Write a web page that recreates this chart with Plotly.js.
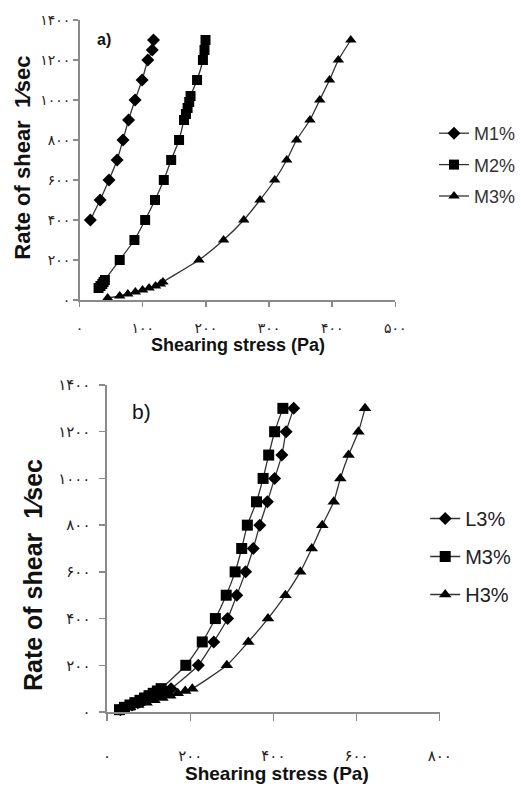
<!DOCTYPE html>
<html>
<head>
<meta charset="utf-8">
<script src="https://cdn.plot.ly/plotly-3.0.1.min.js"></script>
<style>html,body{margin:0;padding:0;background:#fff;}#chart{width:521px;height:791px;}</style>
</head>
<body>
<div id="chart"></div>
<script>
// ---- Panel a) ----
const aM1x = [17, 32.5, 46.5, 59.4, 68.7, 77.5, 87.8, 99, 108, 115, 117];
const aM1y = [400, 500, 600, 700, 800, 900, 1000, 1100, 1200, 1250, 1300];
const aM2x = [30, 33, 36, 38, 40, 63.5, 86.8, 103.8, 119.4, 133.3, 145, 157.5, 165.3, 168.4, 171, 173.6, 175.7, 186, 195.3, 197.8, 199.4];
const aM2y = [60, 70, 80, 90, 100, 200, 300, 400, 500, 600, 700, 800, 900, 930, 960, 990, 1020, 1100, 1200, 1250, 1300];
const aM3x = [44.4, 63.5, 76.4, 88.3, 99.7, 110, 120.3, 128, 132, 189, 228, 260, 285.7, 309, 328, 343.6, 364.8, 380.3, 395.8, 409.8, 429.5];
const aM3y = [10, 20, 30, 40, 50, 60, 70, 80, 90, 200, 300, 400, 500, 600, 700, 800, 900, 1000, 1100, 1200, 1300];
// ---- Panel b) ----
const bL3x = [32, 46, 60, 74, 87, 100, 113, 126, 140, 154, 219.5, 256.6, 290, 312, 333.3, 351.6, 367.3, 385.5, 403, 420.4, 430.6, 448.8];
const bL3y = [10, 20, 30, 40, 50, 60, 70, 80, 90, 100, 200, 300, 400, 500, 600, 700, 800, 900, 1000, 1100, 1200, 1300];
const bM3x = [30, 42, 55, 67, 79, 90, 101, 111, 121, 130, 189.4, 229, 260.5, 286.6, 308, 323.8, 337.4, 359.4, 375.3, 388.7, 403, 422.8];
const bM3y = [10, 20, 30, 40, 50, 60, 70, 80, 90, 100, 200, 300, 400, 500, 600, 700, 800, 900, 1000, 1100, 1200, 1300];
const bH3x = [35, 55, 75, 95, 114, 133, 152, 170, 188, 205, 288, 339.7, 387, 429, 464.6, 492.3, 517.6, 545.2, 561, 580.8, 604.5, 620.4];
const bH3y = [10, 20, 30, 40, 50, 60, 70, 80, 90, 100, 200, 300, 400, 500, 600, 700, 800, 900, 1000, 1100, 1200, 1300];
// ---- Tick labels (Persian digits) ----
const aXticks = [0, 100, 200, 300, 400, 500];
const aXtext = ['۰', '۱۰۰', '۲۰۰', '۳۰۰', '۴۰۰', '۵۰۰'];
const bXticks = [0, 200, 400, 600, 800];
const bXtext = ['۰', '۲۰۰', '۴۰۰', '۶۰۰', '۸۰۰'];
const yTicks = [0, 200, 400, 600, 800, 1000, 1200, 1400];
const yText = ['۰', '۲۰۰', '۴۰۰', '۶۰۰', '۸۰۰', '۱۰۰۰', '۱۲۰۰', '۱۴۰۰'];
const aNames = ['M1%', 'M2%', 'M3%'];
const bNames = ['L3%', 'M3%', 'H3%'];

const W = 521, H = 791;
const px = v => v / W, py = v => 1 - v / H;
const lineC = '#333333';
function tr(x, y, name, sym, size, xa, ya, lg, grp) {
  return {x: x, y: y, name: name, type: 'scatter', mode: 'lines+markers',
    xaxis: xa, yaxis: ya, legend: lg, legendgroup: grp,
    line: {color: lineC, width: 1.3, shape: 'spline', smoothing: 0.5},
    marker: {symbol: sym, size: size, color: '#000'}, cliponaxis: false};
}
const data = [
  tr(aM1x, aM1y, aNames[0], 'diamond', 10, 'x', 'y', 'legend', 'a1'),
  tr(aM2x, aM2y, aNames[1], 'square', 10, 'x', 'y', 'legend', 'a2'),
  tr(aM3x, aM3y, aNames[2], 'triangle-up', 10, 'x', 'y', 'legend', 'a3'),
  tr(bL3x, bL3y, bNames[0], 'diamond', 10, 'x2', 'y2', 'legend2', 'b1'),
  tr(bM3x, bM3y, bNames[1], 'square', 11, 'x2', 'y2', 'legend2', 'b2'),
  tr(bH3x, bH3y, bNames[2], 'triangle-up', 11, 'x2', 'y2', 'legend2', 'b3')
];
const axC = '#8a8a8a';
const tickFont = {family: 'DejaVu Sans, Noto Sans', size: 14, color: '#222'};
function ax(extra) {
  return Object.assign({showgrid: false, zeroline: false, showline: true, linecolor: axC, linewidth: 1.6,
    ticks: 'outside', tickcolor: axC, tickwidth: 1.4, tickmode: 'array', tickfont: tickFont, fixedrange: true}, extra);
}
const ttl = {family: 'Liberation Sans, Arial, sans-serif', color: '#111'};
const layout = {
  width: W, height: H, margin: {l: 0, r: 0, t: 0, b: 0},
  paper_bgcolor: '#fff', plot_bgcolor: '#fff', showlegend: true,
  xaxis: ax({domain: [px(80.7), px(400.7)], range: [0, 500], anchor: 'y', tickvals: aXticks, ticktext: aXtext, ticklen: 5, ticklabelstandoff: 10}),
  yaxis: ax({domain: [py(300), py(20)], range: [0, 1400], anchor: 'x', tickvals: yTicks, ticktext: yText, ticklen: 5}),
  xaxis2: ax({domain: [px(108.5), px(445.7)], range: [0, 800], anchor: 'y2', tickvals: bXticks, ticktext: bXtext, ticklen: 7, ticklabelstandoff: 22, tickfont: Object.assign({}, tickFont, {size: 15})}),
  yaxis2: ax({domain: [py(712), py(385)], range: [0, 1400], anchor: 'x2', tickvals: yTicks, ticktext: yText, ticklen: 6, ticklabelstandoff: 6, tickfont: Object.assign({}, tickFont, {size: 15})}),
  legend: {x: px(440), y: py(115), xanchor: 'left', yanchor: 'top', font: {family: 'Liberation Sans, Arial', size: 18, color: '#333'}, tracegroupgap: 5, bgcolor: 'rgba(0,0,0,0)'},
  legend2: {x: px(431), y: py(499), xanchor: 'left', yanchor: 'top', font: {family: 'Liberation Sans, Arial', size: 20, color: '#222'}, tracegroupgap: 9, bgcolor: 'rgba(0,0,0,0)'},
  annotations: [
    {text: '<b>Rate of shear  1⁄sec</b>', textangle: -90, xref: 'paper', yref: 'paper', x: px(22), y: py(158), xanchor: 'center', yanchor: 'middle', showarrow: false, font: Object.assign({}, ttl, {size: 22})},
    {text: '<b>Rate of shear  1⁄sec</b>', textangle: -90, xref: 'paper', yref: 'paper', x: px(33.5), y: py(575), xanchor: 'center', yanchor: 'middle', showarrow: false, font: Object.assign({}, ttl, {size: 25})},
    {text: '<b>Shearing stress (Pa)</b>', xref: 'paper', yref: 'paper', x: px(241.7), y: py(344.5), xanchor: 'center', yanchor: 'middle', showarrow: false, font: Object.assign({}, ttl, {size: 18})},
    {text: '<b>Shearing stress (Pa)</b>', xref: 'paper', yref: 'paper', x: px(281), y: py(773), xanchor: 'center', yanchor: 'middle', showarrow: false, font: Object.assign({}, ttl, {size: 19})},
    {text: '<b>a)</b>', xref: 'paper', yref: 'paper', x: px(105), y: py(40), xanchor: 'center', yanchor: 'middle', showarrow: false, font: Object.assign({}, ttl, {size: 16})},
    {text: 'b)', xref: 'paper', yref: 'paper', x: px(143), y: py(411), xanchor: 'center', yanchor: 'middle', showarrow: false, font: Object.assign({}, ttl, {size: 21})}
  ]
};
Plotly.newPlot('chart', data, layout, {displayModeBar: false, staticPlot: true});
</script>
</body>
</html>
